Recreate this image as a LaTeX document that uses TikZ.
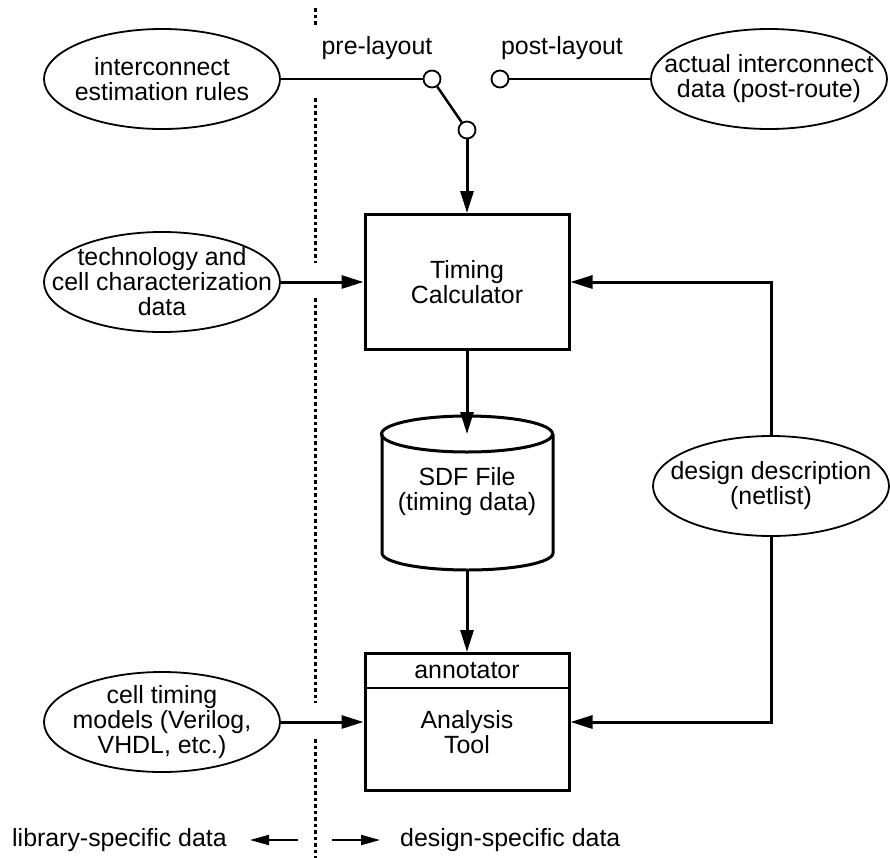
\documentclass[tikz,border=0pt]{standalone}
\usepackage{fontspec}
\setmainfont{Liberation Sans}
\usetikzlibrary{arrows.meta,shapes.geometric}

\begin{document}
\begin{tikzpicture}[x=1bp, y=-1bp,
    font=\fontsize{25}{25}\selectfont,
    fleche/.style={line width=3bp, -{Triangle[length=22bp,width=13bp]}},
    flechelegende/.style={line width=2bp, -{Triangle[length=19bp,width=10bp]}},
    boite/.style={draw, line width=3bp, minimum width=204bp, inner sep=0pt},
    bulle/.style={draw, ellipse, line width=1.8bp, minimum width=236bp, minimum height=100bp, inner sep=0pt},
    borne/.style={draw, circle, fill=white, line width=1.8bp, minimum size=17bp, inner sep=0pt},
    fil/.style={line width=2.5bp},
    frontiere/.style={line width=3bp, dash pattern=on 3.5bp off 3bp}]

    \useasboundingbox (0,0) rectangle (890,858);

    % frontière bibliothèque / conception
    \foreach \a/\b in {8/27, 98/263, 298/703, 739/858}
        \draw[frontiere] (315,\a) -- (315,\b);

    % bulles de données
    \node[bulle, label={[align=center]center:interconnect\\estimation rules}] (regles) at (162,79) {};
    \node[bulle, label={[align=center]center:actual interconnect\\data (post-route)}] (reels) at (769,79) {};
    \node[bulle, label={[align=center]center:technology and\\cell characterization\\data}] (techno) at (162,282) {};
    \node[bulle, label={[align=center]center:design description\\(netlist)}] (design) at (771,486) {};
    \node[bulle, label={[align=center]center:cell timing\\models (Verilog,\\VHDL, etc.)}] (modeles) at (162,722) {};

    % commutateur pre/post-layout
    \node (prelab) at (377,48) {pre-layout};
    \node (postlab) at (562,48) {post-layout};
    \node[borne] (pre) at (432,79) {};
    \node[borne] (post) at (500,79) {};
    \node[borne] (levier) at (467,130) {};
    \draw[fil] (regles.east) -- (pre);
    \draw[fil] (post) -- (reels.west);
    \draw[fil] (pre) -- (levier);

    % blocs
    \node[boite, minimum height=135bp, align=center] (calc) at (467,282) {Timing\\Calculator};
    \node[boite, minimum height=137bp] (outil) at (467,722) {};
    \draw[line width=1.8bp] (outil.west |- 0,688) -- (outil.east |- 0,688);
    \node (annot) at (467,671) {annotator};
    \node[align=center] (analyse) at (467,732) {Analysis\\Tool};

    % fichier SDF (cylindre)
    \coordinate (sdfhaut) at (467,434);
    \coordinate (sdfbas) at (467,570);
    \draw[line width=3bp] (sdfhaut) ellipse [x radius=85.5bp, y radius=18bp];
    \draw[line width=3bp] (382,434) -- (382,553) arc[start angle=180, end angle=360, x radius=85.5bp, y radius=17bp] -- (553,434);
    \node[align=center] (sdf) at (467,492) {SDF File\\(timing data)};

    % flux
    \draw[fleche] (levier) -- (calc.north);
    \draw[fleche] (techno.east) -- (calc.west);
    \draw[fleche] (design.north) |- (calc.east);
    \draw[fleche] (calc.south) -- (sdfhaut);
    \draw[fleche] (sdfbas) -- (outil.north);
    \draw[fleche] (modeles.east) -- (outil.west);
    \draw[fleche] (design.south) |- (outil.east);

    % légende
    \node[anchor=west, inner sep=0pt] (biblio) at (12,840) {library-specific data};
    \node[anchor=west, inner sep=0pt] (conception) at (400,840) {design-specific data};
    \coordinate (gauche1) at (298,840);
    \coordinate (gauche2) at (250,840);
    \coordinate (droite1) at (332,840);
    \coordinate (droite2) at (380,840);
    \draw[flechelegende] (gauche1) -- (gauche2);
    \draw[flechelegende] (droite1) -- (droite2);
\end{tikzpicture}
\end{document}
